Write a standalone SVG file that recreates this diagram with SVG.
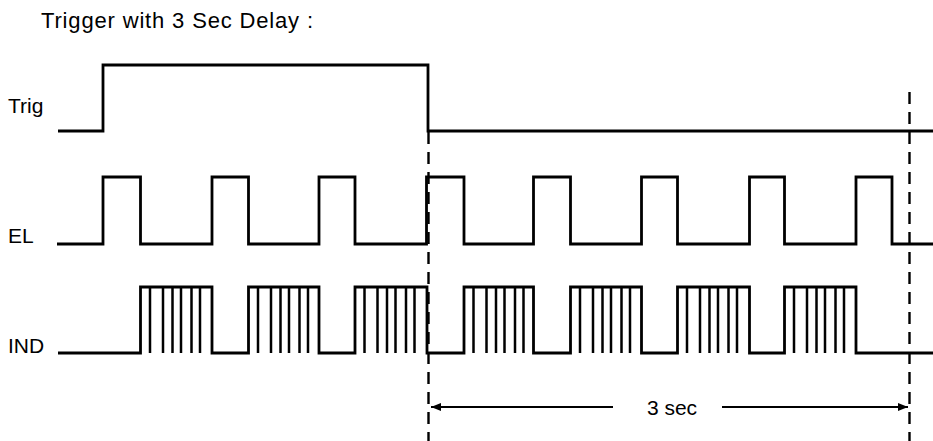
<svg xmlns="http://www.w3.org/2000/svg" width="933" height="441" viewBox="0 0 933 441">
<style>
.sig{fill:none;stroke:#000;stroke-width:2.8;stroke-linejoin:miter;stroke-linecap:butt}
.burst{fill:none;stroke:#000;stroke-width:2.5}
.dash{fill:none;stroke:#000;stroke-width:2.4;stroke-dasharray:12 8}
.dim{fill:none;stroke:#000;stroke-width:2}
.lbl{font-family:"Liberation Sans",Arial,sans-serif;font-size:21px;fill:#000}
.ttl{font-family:"Liberation Sans",Arial,sans-serif;font-size:22px;fill:#000}
</style>
<defs>
<marker id="ah" viewBox="0 0 10 8" refX="10" refY="4" markerWidth="11" markerHeight="8" markerUnits="userSpaceOnUse" orient="auto-start-reverse">
<path d="M0,0 L10,4 L0,8 Z" fill="#000"/>
</marker>
</defs>
<rect width="933" height="441" fill="#fff"/>
<g id="title"><text class="ttl" x="41" y="28" textLength="272" lengthAdjust="spacing">Trigger with 3 Sec Delay :</text></g>
<g id="trig">
<text class="lbl" x="8" y="113">Trig</text>
<path class="sig" d="M58,131 H103 V65 H428 V131 H933"/>
</g>
<g id="el">
<text class="lbl" x="8" y="243">EL</text>
<path class="sig" d="M57,244 H103 V177 H140.5 V244 H212 V177 H248.5 V244 H319 V177 H355 V244 H426.5 V177 H464 V244 H533.5 V177 H570.5 V244 H641.5 V177 H677.5 V244 H749.5 V177 H784.5 V244 H856 V177 H892 V244 H933"/>
</g>
<g id="ind">
<text class="lbl" x="8" y="353">IND</text>
<path class="sig" d="M58,353 H140.5 V287 H212 V353 H248.5 V287 H319 V353 H355 V287 H427 V353 H464 V287 H533.5 V353 H570.5 V287 H641.5 V353 H677.5 V287 H749.5 V353 H784.5 V287 H856 V353 H933"/>
<path class="burst" d="M150,287V353M163,287V353M172.5,287V353M181,287V353M191.5,287V353M200,287V353 M258,287V353M271,287V353M280.5,287V353M289,287V353M299.5,287V353M308,287V353 M364.5,287V353M377.5,287V353M387,287V353M395.5,287V353M406,287V353M414.5,287V353 M473.5,287V353M486.5,287V353M496,287V353M504.5,287V353M515,287V353M523.5,287V353 M580,287V353M593,287V353M602.5,287V353M611,287V353M621.5,287V353M630,287V353 M687,287V353M700,287V353M709.5,287V353M718,287V353M728.5,287V353M737,287V353 M794,287V353M807,287V353M816.5,287V353M825,287V353M835.5,287V353M844,287V353"/>
</g>
<g id="connectors">
<path class="dash" d="M428.5,132 V441"/>
<path class="dash" d="M909.5,92 V441"/>
<path class="dim" d="M613,407 H431" marker-end="url(#ah)"/>
<path class="dim" d="M722,407 H908" marker-end="url(#ah)"/>
</g>
<g id="dim-label"><text class="lbl" x="672" y="415" text-anchor="middle">3 sec</text></g>
</svg>
